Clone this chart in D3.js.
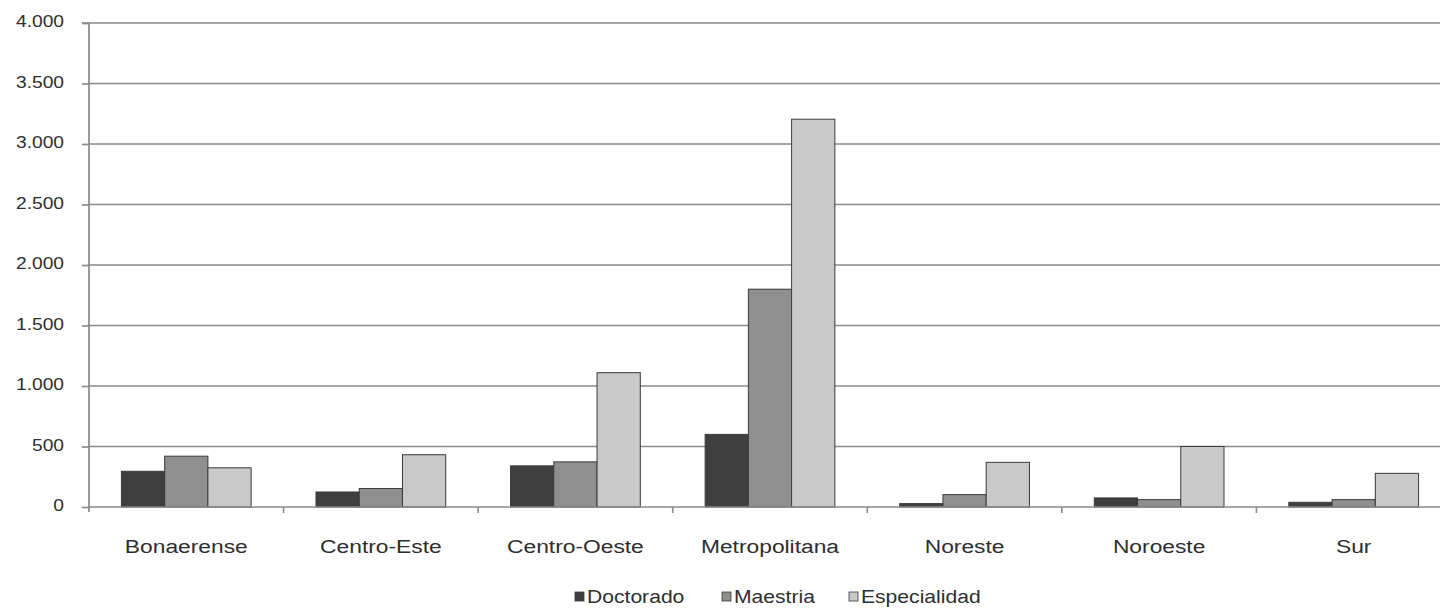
<!DOCTYPE html>
<html><head><meta charset="utf-8">
<script src="https://cdn.jsdelivr.net/npm/d3@7"></script>
<style>
html,body{margin:0;padding:0;background:#fff;}
svg{display:block;}
text{font-family:"Liberation Sans",Arial,sans-serif;fill:#2e2e2e;}
</style></head>
<body>
<svg id="chart" width="1440" height="609"></svg>
<script>
const categories = ["Bonaerense","Centro-Este","Centro-Oeste","Metropolitana","Noreste","Noroeste","Sur"];
const seriesNames = ["Doctorado","Maestria","Especialidad"];
const doctorado = [295, 124, 340, 600, 28, 75, 39];
const maestria = [420, 153, 373, 1800, 102, 61, 61];
const especialidad = [324, 432, 1110, 3205, 369, 500, 278];
const yTicks = [0, 500, 1000, 1500, 2000, 2500, 3000, 3500, 4000];
const colors = ["#3f3f3f", "#8f8f8f", "#c9c9c9"];

const seriesValues = [doctorado, maestria, especialidad];
const svg = d3.select("#chart");
const x0 = 89, x1 = 1451, yTop = 23, yBottom = 507;
const stretch = 1.2;

const locale = d3.formatLocale({decimal: ",", thousands: ".", grouping: [3], currency: ["$",""]});
const fmt = locale.format(",");

const x = d3.scaleBand().domain(categories).range([x0, x1]).paddingInner(0).paddingOuter(0);
const bw = x.bandwidth();
// Excel gap width 150%: group = 3 bars, gap = 1.5 bar
const barW = bw / 4.5;
const xs = d3.scaleBand().domain(seriesNames).range([barW * 0.75, barW * 0.75 + barW * 3]);
const y = d3.scaleLinear().domain([0, 4000]).range([yBottom, yTop]);

// gridlines
svg.append("g").selectAll("line").data(yTicks.filter(d => d > 0)).join("line")
  .attr("x1", x0).attr("x2", 1440)
  .attr("y1", d => y(d)).attr("y2", d => y(d))
  .attr("stroke", "#8a8a8a").attr("stroke-width", 1.7);

// y axis
const yAxis = d3.axisLeft(y).tickValues(yTicks).tickFormat(fmt).tickSize(7).tickPadding(0);
const gy = svg.append("g").attr("transform", `translate(${x0},0)`).call(yAxis);
gy.select(".domain").attr("stroke", "#8a8a8a").attr("stroke-width", 1.7).attr("d", `M-7,${yTop}H0V${yBottom+5}`);
gy.selectAll(".tick line").attr("stroke", "#8a8a8a").attr("stroke-width", 1.7);
gy.selectAll(".tick text")
  .attr("x", null).attr("dy", null)
  .attr("transform", `translate(-25,-2) scale(${stretch},1)`)
  .attr("dy", "0.35em")
  .style("font-size", "16px").attr("fill", "#2e2e2e");

// bars
const groups = svg.append("g").selectAll("g").data(categories).join("g")
  .attr("transform", d => `translate(${x(d)},0)`);
groups.selectAll("rect").data((c, i) => seriesNames.map((s, j) => ({s, j, v: seriesValues[j][i]}))).join("rect")
  .attr("x", d => xs(d.s)).attr("width", xs.bandwidth())
  .attr("y", d => y(d.v)).attr("height", d => yBottom - y(d.v))
  .attr("fill", d => colors[d.j]).attr("stroke", "#3a3a3a").attr("stroke-width", 1);

// x axis
const gx = svg.append("g").attr("transform", `translate(0,${yBottom})`);
gx.append("path").attr("d", `M${x0},0H1440`).attr("stroke", "#8a8a8a").attr("stroke-width", 1.7).attr("fill", "none");
gx.selectAll("line").data(categories.slice(1)).join("line")
  .attr("x1", d => x(d)).attr("x2", d => x(d))
  .attr("y1", 0).attr("y2", 6)
  .attr("stroke", "#8a8a8a").attr("stroke-width", 1.6);
svg.append("g").selectAll("text").data(categories).join("text")
  .attr("transform", d => `translate(${x(d) + bw / 2},553) scale(${stretch},1)`)
  .attr("text-anchor", "middle").style("font-size", "19px").text(d => d);

// legend
const legendPos = [575, 722, 849];
const lg = svg.append("g").selectAll("g").data(seriesNames).join("g")
  .attr("transform", (d, i) => `translate(${legendPos[i]},597)`);
lg.append("rect").attr("x", 0).attr("y", -5).attr("width", 9).attr("height", 9)
  .attr("fill", (d, i) => colors[i]).attr("stroke", "#3a3a3a").attr("stroke-width", 0.8);
lg.append("text").attr("transform", `translate(12,0) scale(${stretch},1)`).attr("dy", "0.36em")
  .style("font-size", "17.6px").text(d => d);
</script>
</body></html>
